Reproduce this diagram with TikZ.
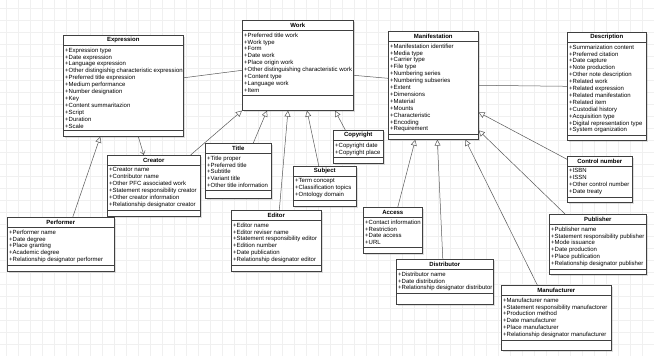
\documentclass[tikz,border=0pt]{standalone}
\usepackage{fontspec}
\setmainfont{Liberation Sans}
\usetikzlibrary{arrows.meta,shadows}

\newcommand{\umlclass}[7]{%
  \node[classbox,minimum width=#4pt,minimum height=#5pt] (#1) at (#2,#3) {};
  \node[classtitle] (#1-t) at (#1.north) {#6};
  \draw[classline] (#1-t.south -| #1.west) -- (#1-t.south -| #1.east);
  \node[classattr] (#1-a) at (#1-t.south -| #1.west) {#7};
  \draw[classline] (#1-a.south -| #1.west) -- (#1-a.south -| #1.east);
}

\begin{document}
\begin{tikzpicture}[x=1pt,y=-1pt,
  classbox/.style={draw=black!75,fill=white,line width=0.6pt,anchor=north west,inner sep=0pt,
    drop shadow={shadow xshift=1.2pt,shadow yshift=-1.2pt,opacity=0.25}},
  classtitle/.style={anchor=north,minimum height=10pt,inner sep=0pt,font=\fontsize{6}{7}\selectfont\bfseries},
  classattr/.style={anchor=north west,align=left,inner xsep=2pt,inner ysep=2.2pt,font=\fontsize{6}{6.9}\selectfont},
  classline/.style={draw=black!75,line width=0.5pt},
  gridline/.style={draw=black!6,line width=0.4pt},
  assoc/.style={draw=black!65,line width=0.5pt},
  isa/.style={draw=black!65,line width=0.5pt,-{Triangle[open,length=6pt,width=6pt]}},
  uses/.style={draw=black!65,line width=0.5pt,-{Straight Barb[length=3.5pt,width=5pt]}}]
  \useasboundingbox (0,0) rectangle (654,356);
  \fill[white] (0,0) rectangle (654,356);
  \foreach \gx in {6,18,...,654} \draw[gridline] (\gx,0) -- (\gx,356);
  \foreach \gy in {8,20,...,356} \draw[gridline] (0,\gy) -- (654,\gy);

  \umlclass{expression}{63}{35}{120}{101}{Expression}{+Expression type\\+Date expression\\+Language expression\\+Other distingishig characteristic expression\\+Preferred title expression\\+Medium performance\\+Number designation\\+Key\\+Content summaritazion\\+Script\\+Duration\\+Scale}
  \umlclass{work}{242}{20}{111}{90}{Work}{+Preferred title work\\+Work type\\+Form\\+Date work\\+Place origin work\\+Other distinguishing characteristic work\\+Content type\\+Language work\\+Item}
  \umlclass{manifestation}{388}{31}{90}{108}{Manifestation}{+Manifestation identifier\\+Media type\\+Carrier type\\+File type\\+Numbering series\\+Numbering subseries\\+Extent\\+Dimensions\\+Material\\+Mounts\\+Characteristic\\+Encoding\\+Requirement}
  \umlclass{description}{567}{32}{79}{108}{Description}{+Summarization content\\+Preferred citation\\+Date capture\\+Note production\\+Other note description\\+Related work\\+Related expression\\+Related manifestation\\+Related item\\+Custodial history\\+Acquisition type\\+Digital representation type\\+System organization}
  \umlclass{control}{567}{156}{65}{46}{Control number}{+ISBN\\+ISSN\\+Other control number\\+Date treaty}
  \umlclass{publisher}{549}{214}{97}{60}{Publisher}{+Publisher name\\+Statement responsibility publisher\\+Mode issuance\\+Date production\\+Place publication\\+Relationship designator publisher}
  \umlclass{manufacturer}{501}{285}{110}{65}{Manufacturer}{+Manufacturer name\\+Statement responsibility manufactorer\\+Production method\\+Date manufacturer\\+Place manufacturer\\+Relationship designator manufacturer}
  \umlclass{distributor}{396}{259}{97}{45}{Distributor}{+Distributor name\\+Date distribution\\+Relationship designator distributor}
  \umlclass{access}{363}{207}{59}{46}{Access}{+Contact information\\+Restriction\\+Date access\\+URL}
  \umlclass{editor}{231}{210}{90}{61}{Editor}{+Editor name\\+Editor reviser name\\+Statement responsibility editor\\+Edition number\\+Date publication\\+Relationship designator editor}
  \umlclass{subject}{293}{166}{63}{40}{Subject}{+Term concept\\+Classification topics\\+Ontology domain}
  \umlclass{copyright}{333}{130}{50}{33}{Copyright}{+Copyright date\\+Copyright place}
  \umlclass{title}{205}{143}{66}{55}{Title}{+Title proper\\+Preferred title\\+Subtitle\\+Variant title\\+Other title information}
  \umlclass{creator}{107}{155}{93}{61}{Creator}{+Creator name\\+Contributor name\\+Other PFC associated work\\+Statement responsibility creator\\+Other creator information\\+Relationship designator creator}
  \umlclass{performer}{7}{217}{107}{54}{Performer}{+Performer name\\+Date degree\\+Place granting\\+Academic degree\\+Relationship designator performer}

  \draw[assoc] ([yshift=8pt]expression.east) -- ([yshift=-5pt]work.west);
  \draw[assoc] ([yshift=-10pt]work.east) -- ([yshift=7pt]manifestation.west);
  \draw[assoc] (manifestation.east) -- (description.west);
  \draw[isa] ([yshift=20pt]control.west) -- ([yshift=-27pt]manifestation.east);
  \draw[isa] ([xshift=16pt]publisher.north west) -- ([yshift=-45pt]manifestation.east);
  \draw[isa] ([xshift=-19pt]manufacturer.north) -- ([xshift=32pt]manifestation.south);
  \draw[isa] ([xshift=-2pt]distributor.north) -- ([xshift=4pt]manifestation.south);
  \draw[isa] ([xshift=5pt]access.north) -- ([xshift=-18pt]manifestation.south);
  \draw[isa] ([xshift=-10pt]creator.north east) -- (work.south west);
  \draw[isa] ([xshift=15pt]title.north) -- ([xshift=25pt]work.south west);
  \draw[isa] ([xshift=3pt]editor.north) -- ([xshift=46pt]work.south west);
  \draw[isa] ([xshift=-6pt]subject.north) -- ([xshift=65pt]work.south west);
  \draw[isa] ([xshift=-13pt]copyright.north) -- ([xshift=93pt]work.south west);
  \draw[isa] ([xshift=12pt]performer.north) -- ([xshift=-23pt]expression.south);
  \draw[uses] ([xshift=15pt]expression.south) -- ([xshift=-10pt]creator.north);
\end{tikzpicture}
\end{document}
